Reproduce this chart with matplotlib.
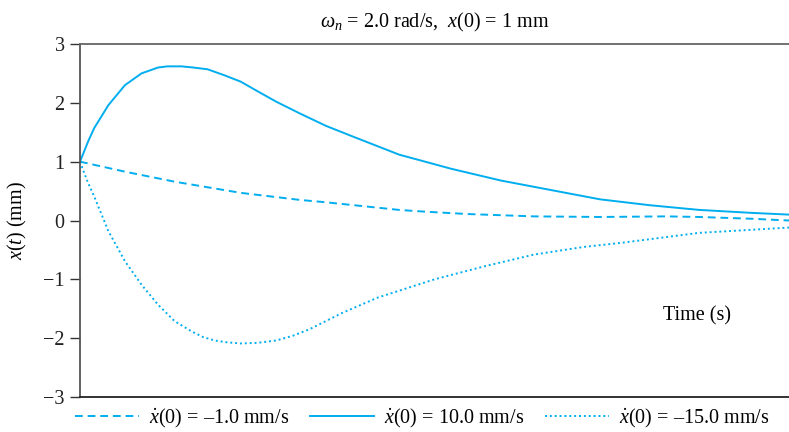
import matplotlib
matplotlib.use('Agg')
import matplotlib.pyplot as plt

plt.rcParams['font.family'] = ['Liberation Serif', 'DejaVu Serif']
plt.rcParams['mathtext.fontset'] = 'custom'
plt.rcParams['mathtext.rm'] = 'Liberation Serif'
plt.rcParams['mathtext.it'] = 'Liberation Serif:italic'

# values (time in s, displacement in mm)
t_pos = [0, 0.02, 0.035, 0.06, 0.12, 0.19, 0.26, 0.33, 0.37, 0.43, 0.48, 0.54, 0.61, 0.68,
         0.75, 0.83, 0.93, 1.04, 1.14, 1.35, 1.57, 1.78, 1.99, 2.2, 2.41, 2.62, 2.84, 3.0]
x_pos = [1.0, 1.2, 1.35, 1.57, 1.96, 2.30, 2.50, 2.60, 2.62, 2.62, 2.60, 2.57, 2.47, 2.36,
         2.2, 2.02, 1.82, 1.61, 1.45, 1.12, 0.88, 0.68, 0.52, 0.36, 0.26, 0.18, 0.13, 0.10]

t_neg = [0, 0.19, 0.40, 0.68, 0.93, 1.04, 1.35, 1.46, 1.64, 1.92, 2.2, 2.48, 2.62, 2.84, 3.0]
x_neg = [1.0, 0.83, 0.66, 0.47, 0.35, 0.31, 0.18, 0.15, 0.11, 0.07, 0.06, 0.07, 0.06, 0.03, 0.0]

t_big = [0, 0.03, 0.063, 0.12, 0.19, 0.26, 0.33, 0.40, 0.47, 0.52, 0.57, 0.62, 0.68, 0.75,
         0.83, 0.90, 0.97, 1.11, 1.26, 1.5, 1.71, 1.92, 2.13, 2.29, 2.62, 3.0]
x_big = [1.0, 0.68, 0.38, -0.18, -0.69, -1.09, -1.43, -1.71, -1.88, -1.98, -2.04, -2.07,
         -2.09, -2.08, -2.04, -1.96, -1.85, -1.57, -1.31, -1.0, -0.78, -0.58, -0.45, -0.38,
         -0.21, -0.12]

yticks = [-3, -2, -1, 0, 1, 2, 3]
ytick_labels = ['\u22123', '\u22122', '\u22121', '0', '1', '2', '3']

col = '#00aeef'
fs = 14.5

fig = plt.figure(figsize=(7.89, 4.32), dpi=100)
ax = fig.add_axes([80 / 789, 1 - 397 / 432, 1 - 80 / 789, 353 / 432])

ax.plot(t_neg, x_neg, color=col, lw=1.4, linestyle=(0, (4, 2.5)),
        label='$\\dot{x}$(0) = \u20131.0 mm/s')
ax.plot(t_pos, x_pos, color=col, lw=1.4, label='$\\dot{x}$(0) = 10.0 mm/s')
ax.plot(t_big, x_big, color=col, lw=1.4, linestyle=(0, (1, 1.5)),
        label='$\\dot{x}$(0) = \u201315.0 mm/s')

ax.set_xlim(0, 3)
ax.set_ylim(-3, 3)
ax.set_yticks(yticks)
ax.set_yticklabels(ytick_labels, fontsize=fs)
ax.set_xticks([])
ax.tick_params(axis='y', direction='out', length=7, width=1, colors='#333333', pad=4)
ax.tick_params(axis='y', labelcolor='#222222')
ax.spines['right'].set_visible(False)
ax.spines['top'].set_color('#666666')
ax.spines['left'].set_color('#555555')
ax.spines['bottom'].set_color('#222222')
for s in ax.spines.values():
    s.set_linewidth(1.3)

ax.set_ylabel('$x$($t$) (mm)', fontsize=fs, labelpad=10)
ax.set_title('$\\omega_n$ = 2.0 rad/s,  $x$(0) = 1 mm', fontsize=fs, pad=12)
ax.text(2.61, -1.62, 'Time (s)', fontsize=fs, ha='center', va='center')

fig.legend(loc='center', bbox_to_anchor=(0.535, 1 - 418 / 432), ncol=3, frameon=False,
           fontsize=fs, handlelength=3.2, handletextpad=0.5, columnspacing=1.0,
           borderaxespad=0, borderpad=0)

fig.savefig('out.png', dpi=100)
